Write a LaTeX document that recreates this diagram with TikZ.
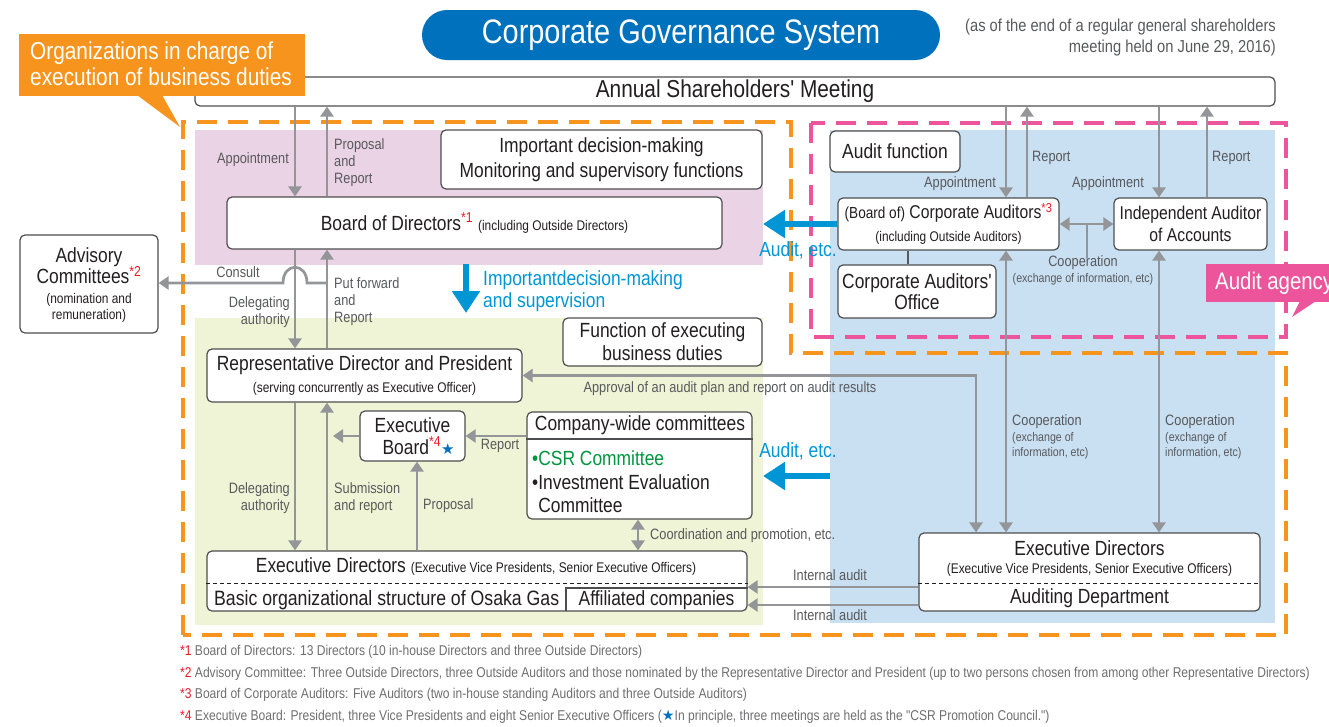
\documentclass[tikz,border=0pt]{standalone}
\usepackage{fontspec}
\setmainfont{Liberation Sans}[FakeStretch=0.85, Ligatures=TeXOff]
\newfontfamily\symfont{DejaVu Sans}
\usetikzlibrary{arrows.meta}
\definecolor{txt}{RGB}{35,31,32}
\definecolor{labc}{RGB}{88,89,91}
\definecolor{arrg}{RGB}{147,149,152}
\definecolor{bord}{RGB}{77,77,79}
\definecolor{tblue}{RGB}{0,113,188}
\definecolor{ablue}{RGB}{0,150,214}
\definecolor{orng}{RGB}{247,148,29}
\definecolor{pnk}{RGB}{236,85,155}
\definecolor{bgpink}{RGB}{235,211,230}
\definecolor{bggreen}{RGB}{240,244,214}
\definecolor{bgblue}{RGB}{201,224,243}
\definecolor{redmk}{RGB}{237,28,36}
\definecolor{csrgreen}{RGB}{0,150,64}
\definecolor{footc}{RGB}{110,110,112}
\newcommand\fmain{\fontsize{20.5}{23}\selectfont}
\newcommand\fmid{\fontsize{18.5}{22}\selectfont}
\newcommand\fsmall{\fontsize{14}{16}\selectfont}
\newcommand\flab{\fontsize{15}{17}\selectfont}
\newcommand\fxs{\fontsize{12.5}{15}\selectfont}
\newcommand\ffoot{\fontsize{14.2}{16}\selectfont}
\newcommand\rmk[1]{\textsuperscript{\color{redmk}#1}}
\tikzset{
  box/.style={draw=bord, line width=1.2pt, rounded corners=5pt, fill=white, inner sep=0pt, text=txt, align=center},
  arr/.style={draw=arrg, line width=2.7pt, -{Triangle[length=10pt,width=13pt]}},
  arrb/.style={draw=arrg, line width=2.7pt, {Triangle[length=10pt,width=13pt]}-{Triangle[length=10pt,width=13pt]}},
  barr/.style={draw=ablue, line width=6pt, -{Triangle[length=22pt,width=27pt]}},
  lab/.style={text=labc, font=\flab, inner sep=0pt},
  bluelab/.style={text=ablue, font=\fmain, inner sep=0pt},
  txtn/.style={text=txt, inner sep=0pt},
  dashbox/.style={line width=4.5pt, dash pattern=on 20pt off 11pt},
  footn/.style={text=footc, font=\ffoot, inner sep=0pt, anchor=west},
}
\begin{document}
\begin{tikzpicture}[x=1pt,y=-1pt]
\useasboundingbox (0,0) rectangle (1329,726);
\clip (0,0) rectangle (1329,726);
% backgrounds
\fill[bgpink] (195,130) rectangle (763,265);
\fill[bggreen] (195,318) rectangle (763,625);
\fill[bgblue] (830,130) rectangle (1275,623);
% dashed regions
\draw[orng, dashbox] (183,635) -- (183,122) -- (791,122) -- (791,353) -- (1286,353) -- (1286,635) -- cycle;
\draw[pnk, dashbox] (811,123) rectangle (1286,337);
% title
\node[fill=tblue, rounded corners=25pt, minimum width=518pt, minimum height=50pt, inner sep=0pt, text=white, font=\fontsize{34}{40}\selectfont] (title) at (681,35) {Corporate Governance System};
\node[anchor=east, align=right, text=labc, inner sep=0pt, font=\fontsize{17.3}{21}\selectfont] (note) at (1276,37.5) {(as of the end of a regular general shareholders\\meeting held on June 29, 2016)};
% boxes
\node[box, minimum width=1080pt, minimum height=29pt, font=\fontsize{24.5}{26}\selectfont] (annual) at (735,91.5) {Annual Shareholders' Meeting};
\node[box, minimum width=321pt, minimum height=59pt, font=\fmain] (impt) at (601.5,159.5) {Important decision-making\\[2pt]Monitoring and supervisory functions};
\node[box, minimum width=495pt, minimum height=52pt, font=\fmain] (board) at (474.5,223) {Board of Directors\rmk{*1} {\fsmall(including Outside Directors)}};
\node[box, minimum width=138pt, minimum height=98pt] (adv) at (89,284) {};
\node[txtn, align=center, font=\fmain] (advt1) at (89,266) {Advisory\\[-2pt]Committees\rmk{*2}};
\node[txtn, align=center, font=\fsmall] (advt2) at (89,308) {(nomination and\\remuneration)};
\node[box, minimum width=199pt, minimum height=48pt, font=\fmain] (funcexec) at (662.5,342) {Function of executing\\business duties};
\node[box, minimum width=315pt, minimum height=53pt, font=\fmain] (rep) at (364.5,375.5) {Representative Director and President\\[-1pt]{\fsmall (serving concurrently as Executive Officer)}};
\node[box, minimum width=105pt, minimum height=50pt, font=\fmain] (eb) at (412.5,436) {Executive\\[-1pt]\hspace*{12pt}Board\rmk{*4}{\symfont\fontsize{15}{15}\selectfont\color{tblue}★}};
\node[box, minimum width=225pt, minimum height=107pt] (cwc) at (639.5,465.5) {};
\node[txtn, font=\fmain] (cwch) at (640,425) {Company-wide committees};
\node[txtn, font=\fmain, anchor=west, align=left] (cwcb) at (532,482) {{\color{csrgreen}•CSR Committee}\\[0.5pt]•Investment Evaluation\\[0.5pt]\phantom{•}Committee};
\node[box, minimum width=540pt, minimum height=60pt] (edl) at (477,581) {};
\node[txtn, font=\fmain] (edlt1) at (476,567) {Executive Directors {\fsmall(Executive Vice Presidents, Senior Executive Officers)}};
\node[txtn, font=\fontsize{20.8}{23}\selectfont, anchor=west] (edlt2) at (214,600) {Basic organizational structure of Osaka Gas};
\node[txtn, font=\fmain] (afft) at (656.5,600) {Affiliated companies};
\node[box, minimum width=341pt, minimum height=78pt] (edr) at (1089.5,572) {};
\node[txtn, font=\fmain] (edrt1) at (1089.5,548) {Executive Directors};
\node[txtn, font=\fsmall] (edrt2) at (1089.5,570) {(Executive Vice Presidents, Senior Executive Officers)};
\node[txtn, font=\fmain] (edrt3) at (1089.5,598) {Auditing Department};
\node[box, minimum width=130pt, minimum height=41pt, font=\fmain] (auditfn) at (895,151.5) {Audit function};
\node[box, minimum width=221pt, minimum height=52pt, font=\fmid] (ca) at (948.5,224) {{\fontsize{16}{18}\selectfont(Board of)} Corporate Auditors\rmk{*3}\\[1pt]{\fsmall(including Outside Auditors)}};
\node[box, minimum width=153pt, minimum height=52pt, font=\fmid] (ia) at (1190.5,224) {Independent Auditor\\of Accounts};
\node[box, minimum width=158pt, minimum height=53pt, font=\fmain] (office) at (917,291.5) {Corporate Auditors'\\[-2pt]Office};
% inner lines
\coordinate (ycs) at (0,439);
\draw[bord, line width=1.2pt] (cwc.west |- ycs) -- (cwc.east |- ycs);
\coordinate (yd) at (0,583);
\draw[txt, line width=0.9pt, dash pattern=on 4pt off 3pt] (edl.west |- yd) -- (edl.east |- yd);
\draw[txt, line width=0.9pt, dash pattern=on 4pt off 3pt] (edr.west |- yd) -- (edr.east |- yd);
\coordinate (affl) at (566,611);
\coordinate (afftop) at (566,588);
\draw[bord, line width=1.2pt] (affl) -- (afftop) -- (edl.east |- afftop);
% column coordinates
\coordinate (xA) at (295,0);
\coordinate (xB) at (327,0);
\coordinate (xC) at (1006,0);
\coordinate (xD) at (1027,0);
\coordinate (xE) at (1159,0);
\coordinate (xF) at (1207,0);
\coordinate (xG) at (976,0);
\coordinate (xH) at (908,0);
\coordinate (xP) at (417,0);
\coordinate (xQ) at (638,0);
% gray connectors
\draw[arr] (annual.south -| xA) -- (board.north -| xA);
\draw[arr] (board.north -| xB) -- (annual.south -| xB);
\draw[arr] (board.south -| xA) -- (rep.north -| xA);
\draw[arr] (rep.north -| xB) -- (board.south -| xB);
\coordinate (cons) at (327,283);
\coordinate (hopr) at (307,283);
\coordinate (hopl) at (283,283);
\draw[arr] (cons) -- (hopr) .. controls (307,262) and (283,262) .. (hopl) -- (adv.east |- cons);
\draw[arr] (rep.south -| xA) -- (edl.north -| xA);
\draw[arr] (edl.north -| xB) -- (rep.south -| xB);
\coordinate (ebt) at (333,436);
\draw[arr] (eb.west) -- (ebt);
\draw[arr] (eb.east -| cwc.west) -- (eb.east);
\draw[arr] (edl.north -| xP) -- (eb.south -| xP);
\draw[arrb] (cwc.south -| xQ) -- (edl.north -| xQ);
\draw[arrb] (edr.north -| xG) |- (rep.east);
\coordinate (yi1) at (0,587);
\coordinate (yi2) at (0,605);
\draw[arr] (edr.west |- yi1) -- (edl.east |- yi1);
\draw[arr] (edr.west |- yi2) -- (edl.east |- yi2);
\draw[arr] (annual.south -| xC) -- (ca.north -| xC);
\draw[arr] (ca.north -| xD) -- (annual.south -| xD);
\draw[arr] (annual.south -| xE) -- (ia.north -| xE);
\draw[arr] (ia.north -| xF) -- (annual.south -| xF);
\draw[arrb] (ca.east) -- (ia.west);
\coordinate (coopm) at (1087,224);
\coordinate (coopd) at (1087,258);
\draw[arrg, line width=2.7pt] (coopm) -- (coopd);
\draw[arrb] (ca.south -| xC) -- (edr.north -| xC);
\draw[arrb] (ia.south -| xE) -- (edr.north -| xE);
\draw[labc, line width=1.5pt] (ca.south -| xH) -- (office.north -| xH);
% blue arrows
\coordinate (imps) at (466,264);
\coordinate (impe) at (466,313);
\draw[barr] (imps) -- (impe);
\coordinate (au1) at (763,224);
\draw[barr] (ca.west) -- (au1);
\coordinate (au2s) at (830,476);
\coordinate (au2e) at (763,476);
\draw[barr] (au2s) -- (au2e);
% labels
\node[lab, anchor=east] (lappt1) at (289,160) {Appointment};
\node[lab, anchor=west, align=left] (lprop) at (334,163) {Proposal\\and\\Report};
\node[lab] (lcons) at (238,272) {Consult};
\node[lab, anchor=east, align=right] (ldel1) at (290,312) {Delegating\\authority};
\node[lab, anchor=west, align=left] (lput) at (334,302) {Put forward\\and\\Report};
\node[lab, anchor=east, align=right] (ldel2) at (290,498) {Delegating\\authority};
\node[lab, anchor=west, align=left] (lsub) at (334,498) {Submission\\and report};
\node[lab, anchor=west] (lpropo) at (423,506) {Proposal};
\node[lab] (lrep) at (500,446) {Report};
\node[lab, anchor=west] (lcoord) at (650,536) {Coordination and promotion, etc.};
\node[lab] (lappr) at (730,389) {Approval of an audit plan and report on audit results};
\node[lab] (lint1) at (830,575) {Internal audit};
\node[lab] (lint2) at (830,615) {Internal audit};
\node[lab, anchor=east] (lappt2) at (996,184) {Appointment};
\node[lab, anchor=west] (lrep2) at (1032,158) {Report};
\node[lab, anchor=east] (lappt3) at (1144,184) {Appointment};
\node[lab, anchor=west] (lrep3) at (1212,158) {Report};
\node[lab] (lcoop1) at (1083,263) {Cooperation};
\node[lab, font=\fxs] (lcoop1b) at (1083,279) {(exchange of information, etc)};
\node[lab, anchor=west] (lcoop2) at (1012,422) {Cooperation};
\node[lab, anchor=west, align=left, font=\fxs] (lcoop2b) at (1012,446) {(exchange of\\information, etc)};
\node[lab, anchor=west] (lcoop3) at (1165,422) {Cooperation};
\node[lab, anchor=west, align=left, font=\fxs] (lcoop3b) at (1165,446) {(exchange of\\information, etc)};
\node[bluelab, anchor=west, align=left] (limp) at (483,291) {Importantdecision-making\\[-1pt]and supervision};
\node[bluelab] (laud1) at (798,250) {Audit, etc.};
\node[bluelab] (laud2) at (798,451) {Audit, etc.};
% callouts (on top)
\fill[orng] (19,34) rectangle (305,96);
\fill[orng] (137,95) -- (162,95) -- (180,127) -- cycle;
\node[anchor=west, text=white, align=left, inner sep=0pt, font=\fontsize{24.5}{26}\selectfont] (orgcall) at (30,64) {Organizations in charge of\\execution of business duties};
\fill[pnk] (1206,264) rectangle (1340,302);
\fill[pnk] (1300,301) -- (1316,301) -- (1292,317) -- cycle;
\node[anchor=west, text=white, inner sep=0pt, font=\fontsize{24}{26}\selectfont] (agency) at (1215,283) {Audit agency};
% footnotes
\node[footn] (fn1) at (180,652) {{\color{redmk}*1} Board of Directors: 13 Directors (10 in-house Directors and three Outside Directors)};
\node[footn] (fn2) at (180,674) {{\color{redmk}*2} Advisory Committee: Three Outside Directors, three Outside Auditors and those nominated by the Representative Director and President (up to two persons chosen from among other Representative Directors)};
\node[footn] (fn3) at (180,695) {{\color{redmk}*3} Board of Corporate Auditors: Five Auditors (two in-house standing Auditors and three Outside Auditors)};
\node[footn] (fn4) at (180,717) {{\color{redmk}*4} Executive Board: President, three Vice Presidents and eight Senior Executive Officers ({\symfont\color{tblue}★}In principle, three meetings are held as the "CSR Promotion Council.")};
\end{tikzpicture}
\end{document}
